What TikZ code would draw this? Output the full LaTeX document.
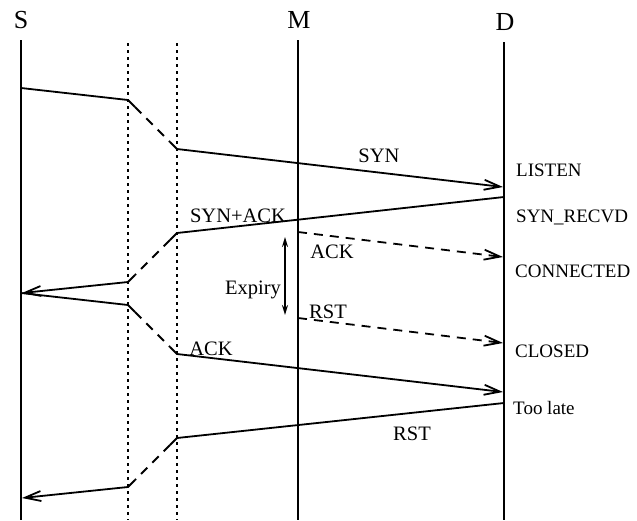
\documentclass[tikz,border=0pt]{standalone}
\usepackage{fontspec}
\setmainfont{Liberation Serif}
\usetikzlibrary{arrows.meta}
\begin{document}
\begin{tikzpicture}[x=1pt,y=-1pt,
  life/.style={line width=1.9pt},
  guide/.style={line width=2pt, dash pattern=on 3pt off 4pt},
  msg/.style={line width=1.8pt},
  lost/.style={line width=1.8pt, dash pattern=on 9pt off 7pt},
  tip/.style={-{Straight Barb[length=16pt,width=10pt]}},
  title/.style={font=\fontsize{26}{28}\selectfont, inner sep=0pt, anchor=base},
  lbl/.style={font=\fontsize{20.5}{22}\selectfont, inner sep=0pt, anchor=base},
  state/.style={font=\fontsize{19}{21}\selectfont, inner sep=0pt, anchor=base west},
]
\useasboundingbox (0,0) rectangle (637,520);

% titles
\node[title] (S) at (21,28) {S};
\node[title] (M) at (299,28) {M};
\node[title] (D) at (505,30) {D};

% lifelines and guides
\coordinate (St) at (21,40);  \coordinate (Sb) at (21,520);
\coordinate (Mt) at (298,40); \coordinate (Mb) at (298,520);
\coordinate (Dt) at (504,42); \coordinate (Db) at (504,520);
\coordinate (G1t) at (128,43); \coordinate (G1b) at (128,520);
\coordinate (G2t) at (177,43); \coordinate (G2b) at (177,520);
\draw[life] (St) -- (Sb);
\draw[life] (Mt) -- (Mb);
\draw[life] (Dt) -- (Db);
\draw[guide] (G1t) -- (G1b);
\draw[guide] (G2t) -- (G2b);

% SYN
\coordinate (a1) at (21,88);   \coordinate (a2) at (128,100);
\coordinate (a2b) at (135,107); \coordinate (a3b) at (170,142);
\coordinate (a3) at (177,149); \coordinate (a4) at (503,187);
\draw[msg] (a1) -- (a2) -- (a2b);
\draw[lost] (a2b) -- (a3b);
\draw[msg,tip] (a3b) -- (a3) -- (a4);
\node[lbl] (lsyn) at (379,162) {SYN};

% SYN+ACK
\coordinate (b1) at (504,197); \coordinate (b2) at (177,233);
\coordinate (b2b) at (170,240); \coordinate (b3b) at (135,275);
\coordinate (b3) at (128,282); \coordinate (b4) at (22,293);
\draw[msg] (b1) -- (b2) -- (b2b);
\draw[lost] (b2b) -- (b3b);
\draw[msg,tip] (b3b) -- (b3) -- (b4);
\node[lbl] (lsynack) at (238,222) {SYN+ACK};

% ACK (from M, dashed)
\coordinate (e1) at (298,232); \coordinate (e2) at (503,257);
\draw[lost,tip] (e1) -- (e2);
\node[lbl] (lack1) at (332,258) {ACK};

% Expiry
\coordinate (g1) at (285,237); \coordinate (g2) at (285,315);
\draw[line width=1.6pt,{Stealth[length=10pt,width=6pt]}-{Stealth[length=10pt,width=6pt]}] (g1) -- (g2);
\node[lbl] (lexp) at (253,294) {Expiry};

% RST (from M, dashed)
\coordinate (f1) at (298,318); \coordinate (f2) at (503,343);
\draw[lost,tip] (f1) -- (f2);
\node[lbl] (lrst1) at (328,318) {RST};

% ACK from S
\coordinate (c1) at (21,293);  \coordinate (c2) at (128,305);
\coordinate (c2b) at (135,312); \coordinate (c3b) at (170,347);
\coordinate (c3) at (177,354); \coordinate (c4) at (503,392);
\draw[msg] (c1) -- (c2) -- (c2b);
\draw[lost] (c2b) -- (c3b);
\draw[msg,tip] (c3b) -- (c3) -- (c4);
\node[lbl] (lack2) at (211,355) {ACK};

% RST from D
\coordinate (d1) at (504,403); \coordinate (d2) at (177,438);
\coordinate (d2b) at (170,445); \coordinate (d3b) at (135,480);
\coordinate (d3) at (128,487); \coordinate (d4) at (22,498);
\draw[msg] (d1) -- (d2) -- (d2b);
\draw[lost] (d2b) -- (d3b);
\draw[msg,tip] (d3b) -- (d3) -- (d4);
\node[lbl] (lrst2) at (412,440) {RST};

% states
\node[state] (listen) at (516,176) {LISTEN};
\node[state] (recvd) at (516,222) {SYN\_RECVD};
\node[state] (conn) at (515,277) {CONNECTED};
\node[state] (closed) at (515,357) {CLOSED};
\node[state] (late) at (513,414) {Too late};
\end{tikzpicture}
\end{document}
